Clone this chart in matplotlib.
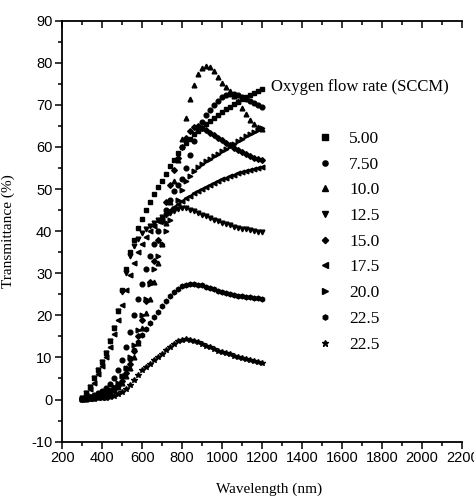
import numpy as np
import pandas as pd
from matplotlib import pyplot as plt
from matplotlib import ticker
from matplotlib import font_manager

# 刻度上的负号用普通连字符
plt.rcParams['axes.unicode_minus'] = False

# wavelength grid (nm): one point every 20 nm
wavelength = [300, 320, 340, 360, 380, 400, 420, 440, 460, 480,
              500, 520, 540, 560, 580, 600, 620, 640, 660, 680,
              700, 720, 740, 760, 780, 800, 820, 840, 860, 880,
              900, 920, 940, 960, 980, 1000, 1020, 1040, 1060, 1080,
              1100, 1120, 1140, 1160, 1180, 1200]

# transmittance (%) for each oxygen flow rate
t_500 = [0.3, 1.5, 3, 5, 7, 9, 11, 14, 17, 21,
         26, 31, 35, 38, 40.8, 43, 45, 47, 48.8, 50.4,
         52, 53.5, 55.5, 57, 58.6, 60, 61, 62, 63, 63.9,
         64.6, 65.4, 66.2, 67, 67.7, 68.4, 69, 69.6, 70.2, 70.8,
         71.3, 71.8, 72.3, 72.8, 73.3, 73.8]
t_750 = [0.2, 0.4, 0.7, 1, 1.5, 2, 2.8, 3.8, 5, 7,
         9.5, 12.5, 16, 20, 24, 27.5, 31, 34, 37, 40,
         42.5, 45, 47.5, 49.5, 51, 52.5, 55, 58, 61.5, 64,
         66, 67.5, 68.8, 70, 71, 71.8, 72.4, 72.7, 72.6, 72.3,
         71.9, 71.4, 70.9, 70.4, 70, 69.6]
t_100 = [0.1, 0.2, 0.4, 0.6, 0.8, 1, 1.3, 1.7, 2.2, 3,
         4, 5.5, 7.5, 10, 13.5, 17, 20.5, 24, 28, 32.5,
         37, 42, 47, 52, 57, 62, 67, 71.5, 74.8, 77.4,
         78.8, 79.3, 79, 78, 76.6, 75.3, 74.3, 73.4, 72.2, 71,
         69.3, 67.8, 66.5, 65.5, 64.8, 64.2]
t_125 = [0.3, 1.5, 3, 5, 7, 9, 11, 14, 17, 21,
         25.5, 30, 34, 36.5, 38.2, 39.5, 40.5, 41.3, 42, 42.7,
         43.3, 43.9, 44.4, 44.9, 45.3, 45.5, 45.4, 45.1, 44.7, 44.3,
         43.9, 43.5, 43.1, 42.7, 42.3, 42, 41.7, 41.4, 41.1, 40.8,
         40.6, 40.4, 40.2, 40, 39.8, 39.7]
t_150 = [0.1, 0.3, 0.5, 0.7, 0.9, 1.2, 1.6, 2.1, 2.7, 3.5,
         4.5, 6.2, 8.5, 11.5, 15, 19, 23.5, 28, 33, 38,
         42.5, 47, 51, 54.5, 57.5, 60, 62.2, 63.9, 64.8, 64.9,
         64.5, 64, 63.4, 62.8, 62.2, 61.6, 61, 60.4, 59.8, 59.3,
         58.8, 58.3, 57.9, 57.5, 57.1, 56.8]
t_175 = [0.2, 1, 2.5, 4, 6, 8, 10, 12.5, 15.5, 19,
         22.5, 26, 29.5, 32.5, 35, 37, 38.6, 40, 41.2, 42.3,
         43.3, 44.2, 45, 45.8, 46.5, 47.2, 47.8, 48.4, 49, 49.5,
         50, 50.5, 51, 51.5, 51.9, 52.3, 52.7, 53.1, 53.4, 53.7,
         54, 54.3, 54.6, 54.8, 55, 55.2]
t_200 = [0.1, 0.3, 0.5, 0.7, 0.9, 1.2, 1.6, 2.2, 3, 4,
         5.5, 7.5, 10, 13, 16.5, 20, 24, 27.5, 31, 34,
         37, 40, 42.7, 45.2, 47.5, 49.7, 51.8, 53.2, 54.3, 55.2,
         56, 56.6, 57.2, 57.8, 58.4, 59, 59.6, 60.2, 60.8, 61.4,
         62, 62.5, 63, 63.5, 64, 64.4]
t_225a = [0.1, 0.2, 0.3, 0.4, 0.6, 0.8, 1.1, 1.5, 2.2, 3.2,
          5.5, 7.5, 9.7, 11.8, 13.7, 15.3, 16.8, 18.2, 19.5, 20.9,
          22.2, 23.4, 24.5, 25.5, 26.3, 26.9, 27.3, 27.5, 27.5, 27.3,
          27.1, 26.8, 26.5, 26.2, 25.9, 25.6, 25.3, 25.1, 24.9, 24.7,
          24.6, 24.4, 24.3, 24.2, 24.1, 24.0]
t_225b = [0.05, 0.1, 0.15, 0.2, 0.25, 0.3, 0.45, 0.65, 0.9, 1.3,
          1.8, 2.6, 3.5, 4.6, 5.8, 6.9, 7.7, 8.5, 9.3, 10.1,
          10.9, 11.7, 12.5, 13.2, 13.8, 14.2, 14.3, 14.2, 13.9, 13.6,
          13.2, 12.8, 12.4, 12, 11.6, 11.3, 11, 10.7, 10.4, 10.1,
          9.8, 9.6, 9.3, 9.1, 8.9, 8.7]

labels = ['5.00', '7.50', '10.0', '12.5', '15.0', '17.5', '20.0', '22.5', '22.5']
markers = ['s', 'o', '^', 'v', 'D', '<', '>', 'h', '*']

df = pd.DataFrame({'wl': wavelength, '5.00': t_500, '7.50': t_750, '10.0': t_100,
                   '12.5': t_125, '15.0': t_150, '17.5': t_175, '20.0': t_200,
                   '22.5a': t_225a, '22.5b': t_225b})
cols = ['5.00', '7.50', '10.0', '12.5', '15.0', '17.5', '20.0', '22.5a', '22.5b']

# narrow sans for the tick numbers if one is installed
installed = set(f.name for f in font_manager.fontManager.ttflist)
tick_font = 'Liberation Sans'
for name in ['Liberation Sans Narrow', 'DejaVu Sans Condensed', 'Arial Narrow']:
    if name in installed:
        tick_font = name
        break

fig = plt.figure(figsize=(4.74, 4.99), dpi=100)
ax = fig.add_axes([0.131, 0.115, 0.844, 0.8435])

for col, lab, m in zip(cols, labels, markers):
    ms = 4.2 if m == '*' else 3.4
    if m == 'D':
        ms = 2.9
    ax.plot(df['wl'], df[col], linestyle='none', marker=m, ms=ms,
            color='black', mec='black', label=lab)

ax.set_xlim(200, 2200)
ax.set_ylim(-10, 90)
ax.xaxis.set_major_locator(ticker.MultipleLocator(200))
ax.xaxis.set_minor_locator(ticker.MultipleLocator(100))
ax.yaxis.set_major_locator(ticker.MultipleLocator(10))
ax.yaxis.set_minor_locator(ticker.MultipleLocator(5))

ax.spines['right'].set_visible(False)
for s in ['left', 'bottom', 'top']:
    ax.spines[s].set_linewidth(1.3)

ax.tick_params(axis='both', which='major', direction='out', length=5, width=1.1,
               labelsize=10.5, pad=2)
ax.tick_params(axis='both', which='minor', direction='out', length=3, width=1.1)
ax.tick_params(axis='x', which='both', top=True)
# top ticks point inward
for t in ax.xaxis.get_major_ticks() + ax.xaxis.get_minor_ticks():
    t.tick2line.set_marker(3)

for lab in ax.get_xticklabels() + ax.get_yticklabels():
    lab.set_family(tick_font)

ax.set_xlabel('Wavelength (nm)', family='Liberation Serif', fontsize=11)
ax.xaxis.set_label_coords(0.518, -0.097)
ax.set_ylabel('Transmittance (%)', family='Liberation Serif', fontsize=11)
ax.yaxis.set_label_coords(-0.118, 0.5)

ax.text(0.5225, 0.8425, 'Oxygen flow rate (SCCM)', transform=ax.transAxes,
        family='Liberation Serif', fontsize=12, va='center', ha='left')

leg = ax.legend(loc='upper left', bbox_to_anchor=(0.6175, 0.759), frameon=False,
                prop={'family': 'Liberation Serif', 'size': 12.5},
                handlelength=0.8, handletextpad=1.0, labelspacing=0.55,
                markerscale=1.1, borderpad=0)

plt.savefig('out.png', dpi=100)
